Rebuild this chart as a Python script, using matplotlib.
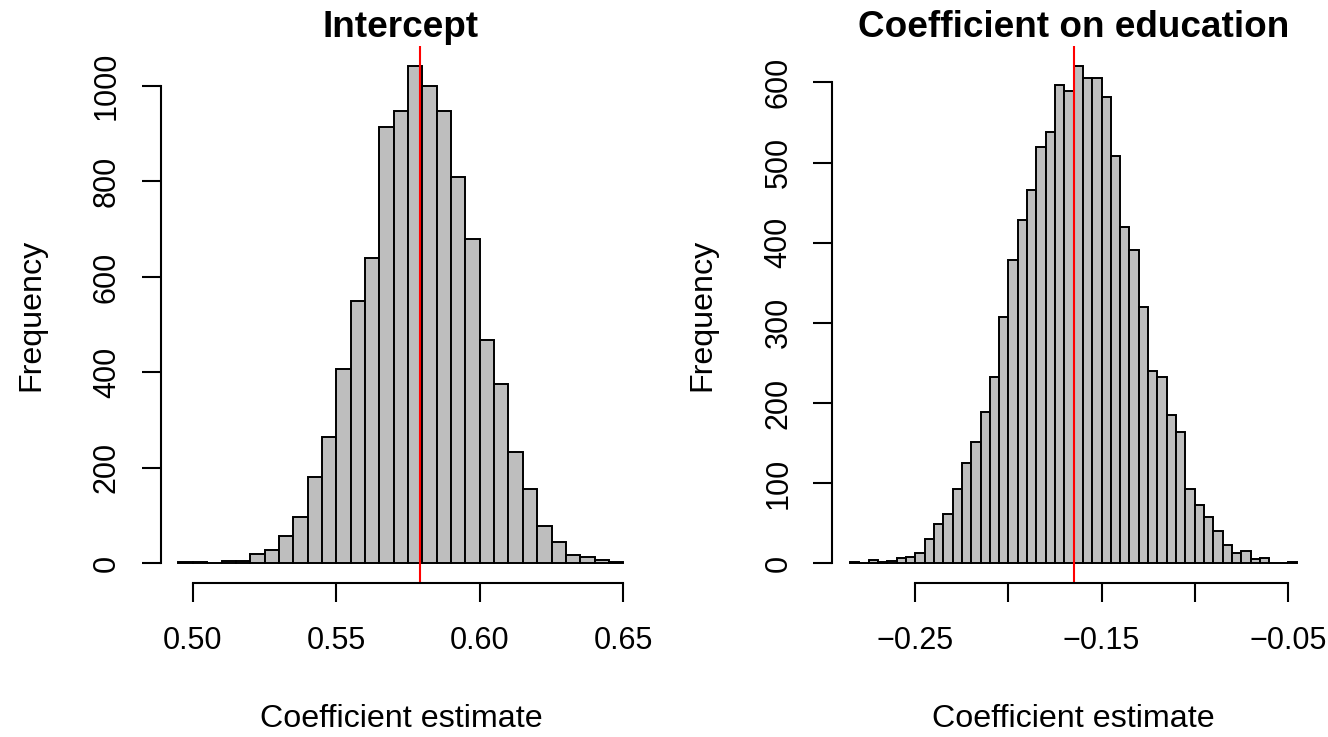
import numpy as np
import matplotlib
matplotlib.use("Agg")
import matplotlib.pyplot as plt

plt.rcParams['font.family'] = ['Liberation Sans', 'DejaVu Sans']

bin_width = 0.005

# intercept histogram
int_start = 0.495
int_counts = [3, 2, 0, 5, 4, 20, 28, 57, 98, 180, 264, 408, 550, 639, 914, 947,
              1043, 1001, 948, 810, 680, 468, 376, 234, 156, 78, 44, 17, 14, 6, 2]
int_estimate = 0.5793
int_xticks = [0.50, 0.55, 0.60, 0.65]
int_xlabels = ["0.50", "0.55", "0.60", "0.65"]
int_yticks = [0, 200, 400, 600, 800, 1000]

# education coefficient histogram
edu_start = -0.285
edu_counts = [2, 0, 4, 1, 3, 6, 8, 13, 30, 49, 62, 93, 125, 151, 189, 233, 307, 378,
              428, 466, 519, 538, 597, 589, 621, 606, 606, 582, 508, 420, 391, 320,
              240, 232, 185, 164, 93, 73, 58, 40, 23, 13, 15, 5, 7, 0, 0, 2]
edu_estimate = -0.1646
edu_xticks = [-0.25, -0.20, -0.15, -0.10, -0.05]
edu_xlabels = ["\u22120.25", "", "\u22120.15", "", "\u22120.05"]
edu_yticks = [0, 100, 200, 300, 400, 500, 600]


def draw_hist(ax, start, counts, estimate, title, xticks, xlabels, yticks):
    counts = np.array(counts)
    edges = start + bin_width * np.arange(len(counts) + 1)
    ax.bar(edges[:-1], counts, width=bin_width, align='edge',
           color='#BEBEBE', edgecolor='black', linewidth=1.4)
    ax.axvline(estimate, color='red', linewidth=1.5)

    # R style 4% padding
    xr = edges[-1] - edges[0]
    ax.set_xlim(edges[0] - 0.04 * xr, edges[-1] + 0.04 * xr)
    ymax = counts.max()
    ax.set_ylim(-0.04 * ymax, 1.04 * ymax)

    for s in ['top', 'right']:
        ax.spines[s].set_visible(False)
    ax.spines['left'].set_bounds(yticks[0], yticks[-1])
    ax.spines['bottom'].set_bounds(xticks[0], xticks[-1])
    for s in ['left', 'bottom']:
        ax.spines[s].set_linewidth(1.5)

    ax.set_xticks(xticks)
    ax.set_xticklabels(xlabels)
    ax.set_yticks(yticks)
    ax.set_yticklabels([str(t) for t in yticks], rotation=90, va='center')
    ax.tick_params(axis='both', direction='out', length=14, width=1.5,
                   labelsize=22)
    ax.tick_params(axis='x', pad=17)
    ax.tick_params(axis='y', pad=14)

    ax.set_title(title, fontsize=26.6, fontweight='bold', y=1.033, va='center',
                 pad=0)
    ax.set_xlabel("Coefficient estimate", fontsize=23.2, va='center')
    ax.xaxis.set_label_coords(0.5, -0.2526)
    ax.set_ylabel("Frequency", fontsize=23.2, va='center')
    ax.yaxis.set_label_coords(-0.270, 0.5)


fig = plt.figure(figsize=(13.28, 7.37), dpi=100)
ax1 = fig.add_axes([0.1210, 0.2087, 0.3617, 0.7294])
ax2 = fig.add_axes([0.6267, 0.2087, 0.3635, 0.7294])
ax1.patch.set_visible(False)
ax2.patch.set_visible(False)

draw_hist(ax1, int_start, int_counts, int_estimate, "Intercept",
          int_xticks, int_xlabels, int_yticks)
draw_hist(ax2, edu_start, edu_counts, edu_estimate, "Coefficient on education",
          edu_xticks, edu_xlabels, edu_yticks)

fig.savefig("out.png", dpi=100)
